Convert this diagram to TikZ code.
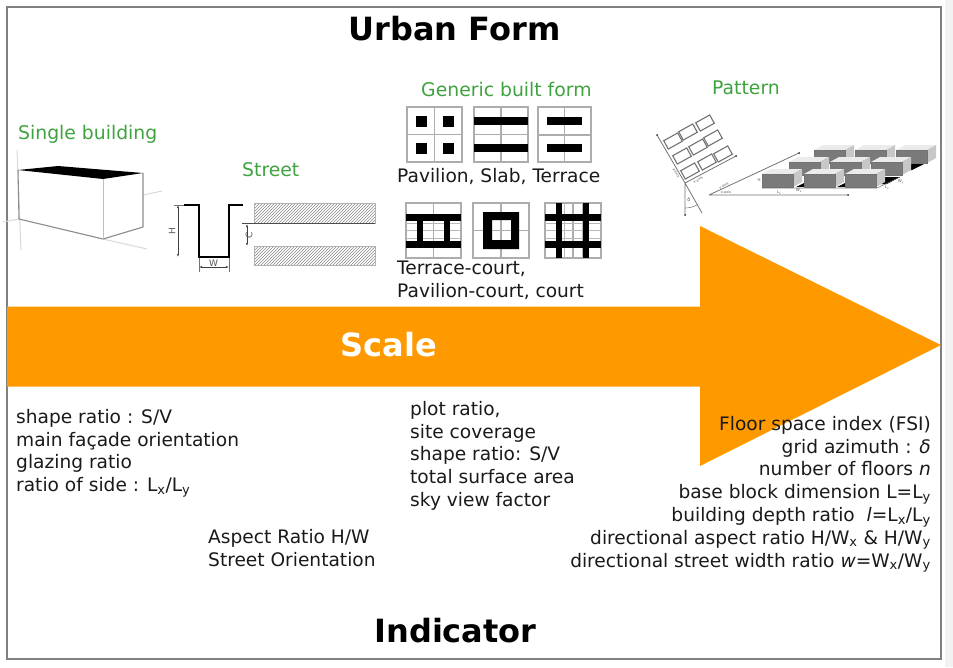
\documentclass[tikz,border=0pt]{standalone}
\usepackage{fontspec}
\setmainfont{DejaVu Sans}
\usetikzlibrary{patterns,arrows.meta}
\definecolor{orangeA}{HTML}{FF9900}
\definecolor{greenA}{HTML}{3FA33F}
\definecolor{textA}{HTML}{1A1A1A}
\tikzset{
  title/.style={font=\fontsize{32}{38}\selectfont\bfseries,text=black,inner sep=0pt},
  formlabel/.style={font=\fontsize{18.8}{22}\selectfont,text=greenA,inner sep=0pt},
  body/.style={font=\fontsize{18.6}{22.8}\selectfont,text=textA,inner sep=0pt,anchor=north west,align=left},
  bodyr/.style={font=\fontsize{18.6}{22.8}\selectfont,text=textA,inner sep=0pt,anchor=north east,align=right},
  gridline/.style={draw=black!32,line width=1.1pt},
  fineline/.style={draw=black!28,line width=.7pt},
  solid block/.style={fill=black,draw=none},
  tinydim/.style={font=\fontsize{6}{6}\selectfont,text=black!65,inner sep=0pt},
  dimline/.style={draw=black!75,line width=.5pt,{Latex[length=3pt,width=2pt]}-{Latex[length=3pt,width=2pt]}},
  tick/.style={draw=black!55,line width=.5pt},
  faint/.style={draw=black!15,line width=1pt},
  parcel/.style={draw=black!55,line width=1.1pt,fill=white},
}
\begin{document}
\begin{tikzpicture}[x=1pt,y=-1pt]
\useasboundingbox (0,0) rectangle (953,667);
\fill[white] (0,0) rectangle (953,667);
\fill[black!5] (945,0) rectangle (953,667);
\draw[draw=black!50,line width=1.3pt,fill=white] (7,7) rectangle (941,659);

% Arrow
\fill[orangeA] (7,306.5) -- (700,306.5) -- (700,226) -- (941,345) -- (700,466) -- (700,386.5) -- (7,386.5) -- cycle;
\node[font=\fontsize{32}{38}\selectfont\bfseries,text=white,inner sep=0pt] (scale) at (389,345) {Scale};

% Titles
\node[title] (urban) at (454.5,29) {Urban Form};
\node[title] (indicator) at (455.5,631) {Indicator};
\node[formlabel,anchor=west] (single) at (18,134) {Single building};
\node[formlabel,anchor=west] (street) at (242,170) {Street};
\node[formlabel,anchor=west] (generic) at (421,89) {Generic built form};
\node[formlabel,anchor=west] (pattern) at (712,88) {Pattern};

% Single building
\draw[faint] (17,150) -- (21,250);
\draw[faint] (3,222) -- (19,219);
\draw[faint] (103,239) -- (147,249);
\draw[faint] (143,195) -- (162,191);
\fill[black] (18,170) -- (58,166) -- (143,173) -- (103,179) -- cycle;
\draw[black!45,line width=1.1pt,line join=round] (18,170) -- (19,219) -- (103,239) -- (143,227) -- (143,173);
\draw[black!25,line width=1pt] (103,179) -- (103,239);

% Street section
\draw[black,line width=1.2pt] (184,205) -- (199,205) -- (199,257) -- (229,257) -- (229,205) -- (243,205);
\draw[dimline] (178,205) -- (178,257);
\draw[tick] (174,205) -- (184,205);
\node[tinydim,font=\fontsize{9}{9}\selectfont,rotate=90] (hlab) at (172,231) {H};
\draw[dimline] (199,267) -- (229,267);
\draw[tick] (199,258) -- (199,272);
\draw[tick] (229,258) -- (229,272);
\node[tinydim,font=\fontsize{9}{9}\selectfont] (wlab) at (213.5,263) {W};
% Street plan
\fill[pattern=north east lines,pattern color=black!45] (254,203) rectangle (375,223);
\fill[pattern=north east lines,pattern color=black!45] (254,246) rectangle (375,265);
\draw[black!30,line width=.6pt] (254,203) rectangle (375,223);
\draw[black!30,line width=.6pt] (254,246) rectangle (375,265);
\draw[black!70,line width=.8pt] (242,223) -- (375,223);
\draw[dimline] (247,224) -- (247,246);
\node[tinydim,font=\fontsize{9}{9}\selectfont,rotate=90] (clab) at (249,235) {C};

% Generic built form, first row
\draw[gridline] (407,107) rectangle (462,162) (434.5,107) -- (434.5,162) (407,134.5) -- (462,134.5);
\foreach \gx/\gy in {416/116,443/116,416/143,443/143}
  \fill[solid block] (\gx,\gy) rectangle ++(11,11);
\draw[gridline] (474,107) rectangle (528,162) (501,107) -- (501,162) (474,134.5) -- (528,134.5);
\fill[solid block] (474,117) rectangle (528,125);
\fill[solid block] (474,144) rectangle (528,152);
\draw[gridline] (538,107) rectangle (591,162) (564.5,107) -- (564.5,162) (538,135) -- (591,135);
\fill[solid block] (547,117) rectangle (582,125);
\fill[solid block] (547,144) rectangle (582,152);
\node[body] (row1) at (397,168) {Pavilion, Slab, Terrace};

% Generic built form, second row
\draw[gridline] (406,203) rectangle (461,258) (433.5,203) -- (433.5,258);
\draw[fineline] (406,223) -- (461,223) (406,230.5) -- (461,230.5) (406,238) -- (461,238);
\fill[solid block] (406,214) rectangle (461,221);
\fill[solid block] (406,241) rectangle (461,248);
\fill[solid block] (417,214) rectangle (423,248);
\fill[solid block] (444,214) rectangle (450,248);

\draw[gridline] (473,203) rectangle (529,258) (501,203) -- (501,258) (473,230.5) -- (529,230.5);
\fill[solid block,even odd rule] (483,212) rectangle (519,249) (492,220) rectangle (511,240);

\draw[gridline] (545,203) rectangle (601,258) (573,203) -- (573,258);
\draw[fineline] (564,203) -- (564,258) (582,203) -- (582,258);
\foreach \gy in {223,230.5,238} \draw[fineline] (545,\gy) -- (601,\gy);
\fill[solid block] (545,214) rectangle (601,221);
\fill[solid block] (545,241) rectangle (601,248);
\fill[solid block] (556,203) rectangle (562,258);
\fill[solid block] (583,203) rectangle (589,258);
\node[body] (row2) at (397,261) {Terrace-court,\\Pavilion-court, court};

% Pattern plan
\foreach \cx/\cy in {673/141,688/132,705/123,682/156,698/147,713/138,690/171,707/162,723/154}
  \node[parcel,rotate=29,minimum width=16pt,minimum height=9.5pt,inner sep=0pt] at (\cx,\cy) {};
\coordinate (pa) at (657,135);
\coordinate (pb) at (685,183);
\coordinate (pc) at (702,213);
\coordinate (pd) at (736,156);
\coordinate (pe) at (685,215);
\draw[black!55,line width=.8pt] (pa) -- (pb) -- (pc) (pb) -- (pd) (pb) -- (pe);
\fill[black!80] (pa) circle (1pt) (pd) circle (1pt) (pe) circle (1pt);
\draw[black!50,line width=.6pt] (685,208) arc (90:62:25);
\node[tinydim,font=\fontsize{5}{5}\selectfont] (delta) at (689,200) {δ};
\node[tinydim,font=\fontsize{3.5}{4}\selectfont,rotate=29] (xaxis) at (698,180) {x-axis};
\node[tinydim,font=\fontsize{3.5}{4}\selectfont,rotate=-60] (yaxis) at (676,173) {y-axis};

% Pattern perspective
\coordinate (oo) at (709,195);
\coordinate (ox) at (848,195);
\coordinate (oy) at (799,153);
\draw[black!55,line width=.8pt] (oo) -- (ox) (oo) -- (oy);
\fill[black!80] (ox) circle (1pt) (oy) circle (1pt);
\node[tinydim,font=\fontsize{3.5}{4}\selectfont] (xb) at (726,192) {x-axis};
\node[tinydim,font=\fontsize{3.5}{4}\selectfont,rotate=25] (yb) at (724,186) {y-axis};
% shadows
\fill[black] (912,163) -- (926,163) -- (912,170) -- (908,170) -- cycle;
\fill[black] (884,177) -- (900,177) -- (887,184) -- (880,184) -- cycle;
\fill[black] (796,187) -- (804,183) -- (804,187) -- cycle;
\fill[black] (837,187) -- (845,183) -- (845,187) -- cycle;
\foreach \bx/\by in {814/150,855/150,896/150,789/162,830/162,871/162,762/174,804/174,845/174}{
  \fill[black!52] (\bx,\by) rectangle ++(31,13);
  \fill[black!8] (\bx,\by) -- ++(9,-5) -- ++(31,0) -- ++(-9,5) -- cycle;
  \fill[black!22] (\bx+31,\by) -- ++(9,-5) -- ++(0,13) -- ++(-9,5) -- cycle;
  \draw[black!55,line width=.3pt] (\bx,\by) rectangle ++(31,13);
}
\draw[black!60,line width=.5pt] (762,188) -- (877,188) -- (900,177);
\node[tinydim,font=\fontsize{4}{4}\selectfont] (lx) at (779,193) {L\textsubscript{x}};
\node[tinydim,font=\fontsize{4}{4}\selectfont] (wx) at (799,191) {W\textsubscript{x}};
\node[tinydim,font=\fontsize{4}{4}\selectfont] (ly) at (887,188) {L\textsubscript{y}};
\node[tinydim,font=\fontsize{4}{4}\selectfont] (wy) at (901,182) {W\textsubscript{y}};
\node[tinydim,font=\fontsize{4}{4}\selectfont] (hp) at (759,180) {H};

% Indicators
\node[body] (ind1) at (16,409) {shape ratio : S/V\\main façade orientation\\glazing ratio\\ratio of side : L\textsubscript{x}/L\textsubscript{y}};
\node[body] (ind2) at (208,529) {Aspect Ratio H/W\\Street Orientation};
\node[body] (ind3) at (410,401) {plot ratio,\\site coverage\\shape ratio: S/V\\total surface area\\sky view factor};
\node[bodyr] (ind4) at (931,416) {Floor space index (FSI)\\grid azimuth : \textit{δ}\ \\number of floors \textit{n}\\base block dimension L=L\textsubscript{y}\\building depth ratio\ \ \textit{l}=L\textsubscript{x}/L\textsubscript{y}\\directional aspect ratio H/W\textsubscript{x} \& H/W\textsubscript{y}\\directional street width ratio \textit{w}=W\textsubscript{x}/W\textsubscript{y}};
\end{tikzpicture}
\end{document}
